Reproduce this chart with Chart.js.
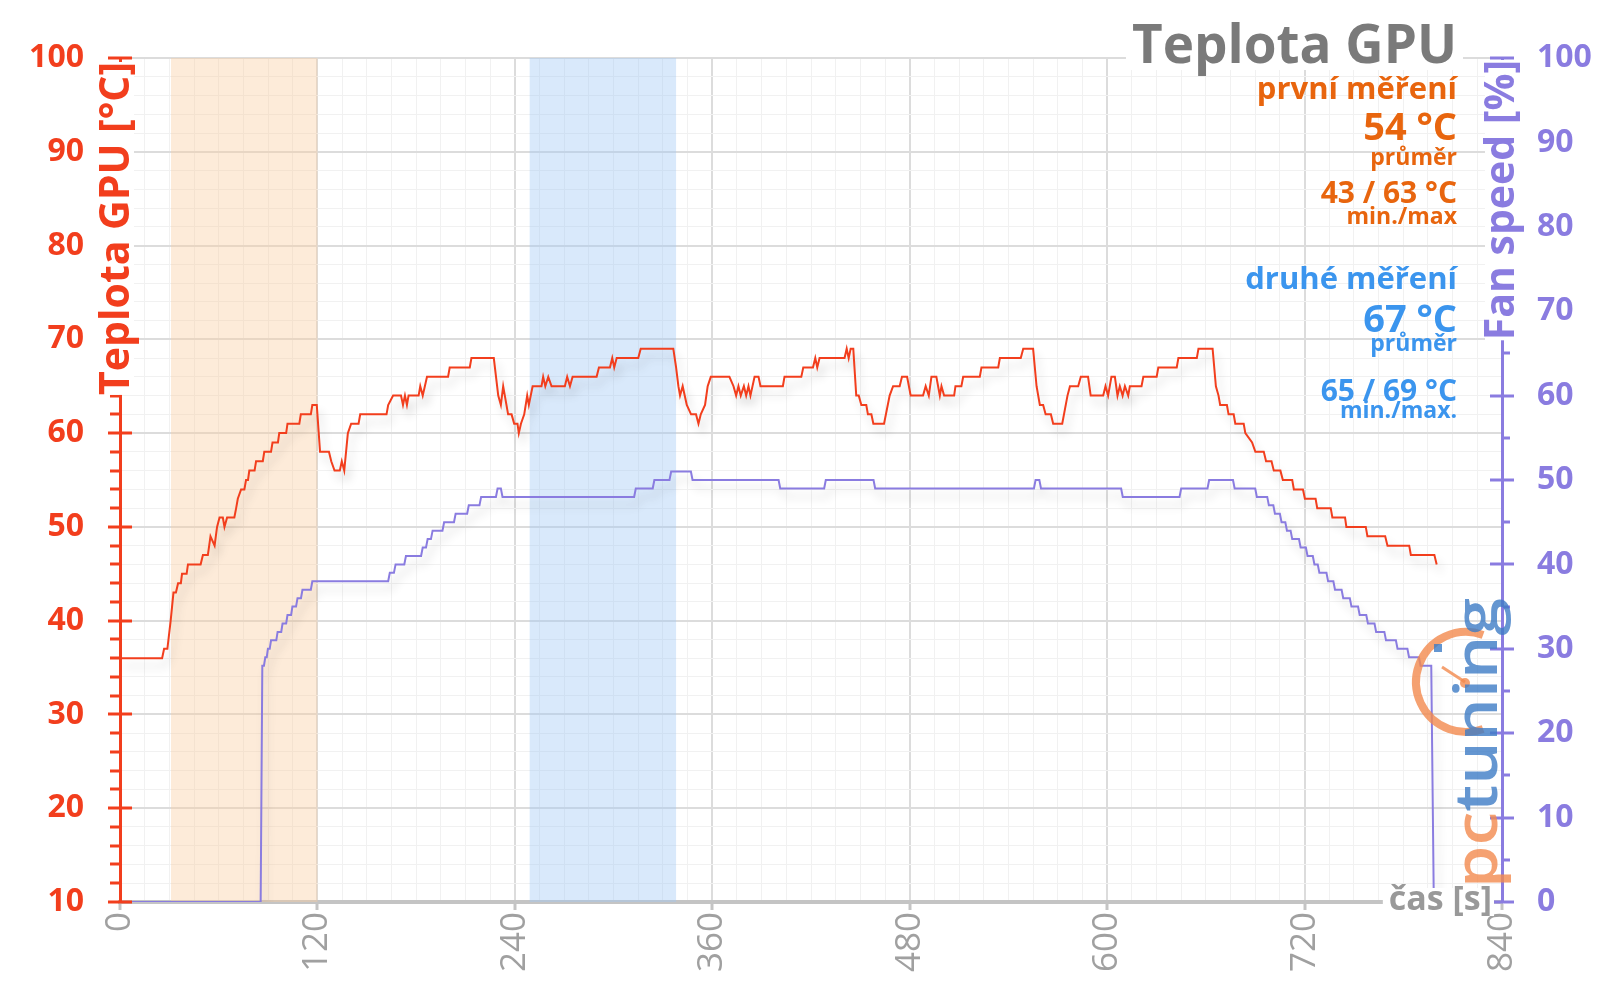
<!DOCTYPE html>
<html>
<head>
<meta charset="utf-8">
<title>Teplota GPU</title>
<script src="https://cdn.jsdelivr.net/npm/chart.js@4.4.1/dist/chart.umd.min.js"></script>
<style>
  html, body { margin: 0; padding: 0; background: #fff; }
  canvas { display: block; }
</style>
</head>
<body>
<canvas id="teplotaChart" width="1600" height="996"></canvas>
<script>
// hodnoty (čas v s)
const tempTime = [
  0, 25.6, 26.8, 28.8, 30.8, 32.5, 34, 35.3, 37, 37.7,
  40.5, 41.3, 49, 50.4, 53.4, 55, 57.5, 59, 60.5, 62.5,
  63.5, 65.1, 69.5, 70.6, 71.6, 73.6, 75.6, 76.6, 77.8, 78.6,
  81.8, 82.7, 86.8, 87.7, 91.8, 92.7, 96, 96.8, 101, 101.8,
  109, 109.9, 116, 116.9, 119.6, 121.6, 127, 128.4, 130.4, 133.6,
  134.8, 136.3, 138.5, 140.5, 145, 146, 162, 163, 166, 170.8,
  172, 173.2, 174.4, 175.4, 181.5, 182.5, 184, 185.3, 186.6, 199.4,
  200.4, 212.6, 213.6, 227.2, 229.9, 231.5, 232.9, 235.9, 238, 239.6,
  241.6, 242.4, 243.7, 245.7, 247.5, 248.5, 250.8, 256.2, 257.2, 258.5,
  260.3, 262.3, 270.4, 271.8, 273.5, 275.1, 289.7, 291.1, 297.8, 299.2,
  300.4, 301.9, 315, 316.5, 336.3, 338, 339.4, 340.4, 342, 344.5,
  347.1, 350.1, 351.6, 353, 355.6, 357.2, 359.1, 370.4, 372.9, 374.5,
  375.9, 377.3, 379.2, 380.6, 382, 383.2, 385.7, 388.1, 389.3, 402.9,
  403.9, 414.1, 415.3, 421.2, 422.6, 423.8, 425.2, 440.4, 441.7, 442.9,
  444.1, 445.7, 447.5, 449, 450.6, 453.6, 454.6, 456.7, 457.9, 464.4,
  467.8, 469.9, 473.9, 475.3, 478.4, 480.6, 488.1, 489.7, 491.6, 493.2,
  496.2, 498.3, 499.3, 500.9, 507, 507.8, 511.4, 512.5, 522.6, 523.6,
  533.8, 534.8, 547.5, 549, 555, 557.1, 559.1, 561.1, 562.6, 565.8,
  567.2, 572.7, 575.9, 577.4, 582.4, 584, 588.4, 590, 597.6, 599,
  600.6, 602.6, 604.7, 606.3, 607.7, 609.4, 610.8, 612.8, 613.8, 620.9,
  622, 630.1, 631.1, 642.3, 643.3, 654.5, 655.5, 664.1, 666.1, 667.7,
  668.7, 672.8, 673.8, 676.9, 677.9, 683, 684, 688.1, 690.1, 695.2,
  696.6, 699.9, 701.3, 705.3, 706.8, 712.5, 713.5, 719, 720.2, 726.7,
  727.7, 735.9, 736.9, 744.6, 745.4, 757.2, 758.2, 769, 770.4, 783.6,
  784.6, 798.9, 800.3
];
const tempValue = [
  36, 36, 37, 37, 40, 43, 43, 44, 44, 45,
  45, 46, 46, 47, 47, 49, 48, 50, 51, 51,
  50, 51, 51, 52, 53, 54, 54, 55, 55, 56,
  56, 57, 57, 58, 58, 59, 59, 60, 60, 61,
  61, 62, 62, 63, 63, 58, 58, 57, 56, 56,
  57, 56, 60, 61, 61, 62, 62, 63, 64, 64,
  63, 64, 63, 64, 64, 65, 64, 65, 66, 66,
  67, 67, 68, 68, 64, 63, 65, 62, 62, 61,
  61, 60, 61, 62, 64, 63, 65, 65, 66, 65,
  66, 65, 65, 66, 65, 66, 66, 67, 67, 68,
  67, 68, 68, 69, 69, 67, 65, 64, 65, 63,
  62, 62, 61, 62, 63, 65, 66, 66, 65, 64,
  65, 64, 65, 64, 65, 64, 66, 66, 65, 65,
  66, 66, 67, 67, 68, 67, 68, 68, 69, 68,
  69, 69, 64, 64, 63, 63, 62, 62, 61, 61,
  64, 65, 65, 66, 66, 64, 64, 65, 64, 66,
  66, 64, 65, 64, 64, 65, 65, 66, 66, 67,
  67, 68, 68, 69, 69, 65, 63, 63, 62, 62,
  61, 61, 64, 65, 65, 66, 66, 64, 64, 65,
  64, 66, 66, 64, 65, 64, 65, 64, 65, 65,
  66, 66, 67, 67, 68, 68, 69, 69, 65, 64,
  63, 63, 62, 62, 61, 61, 60, 59, 58, 58,
  57, 57, 56, 56, 55, 55, 54, 54, 53, 53,
  52, 52, 51, 51, 50, 50, 49, 49, 48, 48,
  47, 47, 46
];
const fanTime = [
  0, 85.5, 86.5, 87.5, 88.3, 89.2, 89.9, 91, 91.8, 95,
  95.8, 98, 98.8, 101, 101.8, 104, 104.8, 107, 107.9, 110,
  110.9, 116, 116.9, 163, 164, 166.5, 167.5, 172.8, 173.8, 183,
  184, 186, 187, 189, 190, 196, 197, 203, 204, 211,
  212, 218.5, 219.5, 228.5, 229.5, 231.5, 232.5, 312.5, 313.5, 323.8,
  324.8, 334, 335, 347, 348, 400.3, 401.3, 428, 429, 458,
  459, 555.5, 556.5, 558.8, 559.8, 608.5, 609.5, 644, 645, 661,
  662, 676.5, 677.5, 690, 691, 697.3, 698.3, 701, 702, 705,
  706, 708.3, 709.3, 711.5, 712.5, 716.6, 717.6, 720.8, 721.8, 725,
  726, 728, 729, 733.3, 734.3, 737.5, 738.5, 742.5, 743.5, 747.5,
  748.5, 752.5, 753.5, 757.5, 758.5, 762.5, 763.5, 768.5, 769.5, 775.5,
  776.5, 782.5, 783.5, 789.5, 790.5, 797, 798.5
];
const fanValue = [
  0, 0, 28, 28, 29, 29, 30, 30, 31, 31,
  32, 32, 33, 33, 34, 34, 35, 35, 36, 36,
  37, 37, 38, 38, 39, 39, 40, 40, 41, 41,
  42, 42, 43, 43, 44, 44, 45, 45, 46, 46,
  47, 47, 48, 48, 49, 49, 48, 48, 49, 49,
  50, 50, 51, 51, 50, 50, 49, 49, 50, 50,
  49, 49, 50, 50, 49, 49, 48, 48, 49, 49,
  50, 50, 49, 49, 48, 48, 47, 47, 46, 46,
  45, 45, 44, 44, 43, 43, 42, 42, 41, 41,
  40, 40, 39, 39, 38, 38, 37, 37, 36, 36,
  35, 35, 34, 34, 33, 33, 32, 32, 31, 31,
  30, 30, 29, 29, 28, 28, 1
];
// zvýrazněné úseky (první / druhé měření)
const bandStart = [31, 249];
const bandEnd = [120, 338];

const chartTitle = "Teplota GPU";
const firstLabel = "první měření";
const firstAvg = "54 °C";
const firstMinMax = "43 / 63 °C";
const secondLabel = "druhé měření";
const secondAvg = "67 °C";
const secondMinMax = "65 / 69 °C";

const RED = "#f23e1d";
const PURPLE = "#8a7ce0";
const ORANGE = "#e8650e";
const BLUE = "#3b95ee";
const FONT = "'Open Sans', sans-serif";
const bandColors = ["rgba(251, 205, 160, 0.4)", "rgba(160, 200, 246, 0.4)"];

Chart.defaults.font.family = FONT;

const bandPlugin = {
  id: "bands",
  beforeDatasetsDraw(chart) {
    const { ctx, chartArea: a, scales: { x } } = chart;
    ctx.save();
    bandStart.forEach((s, i) => {
      const x0 = x.getPixelForValue(s);
      const x1 = x.getPixelForValue(bandEnd[i]);
      ctx.fillStyle = bandColors[i];
      ctx.fillRect(x0, a.top, x1 - x0, a.bottom - a.top);
    });
    ctx.restore();
  }
};

const shadowPlugin = {
  id: "lineShadow",
  beforeDatasetDraw(chart) {
    const c = chart.ctx;
    c.save();
    c.shadowColor = "rgba(0,0,0,0.16)";
    c.shadowBlur = 10;
    c.shadowOffsetX = 4;
    c.shadowOffsetY = 8;
  },
  afterDatasetDraw(chart) {
    chart.ctx.restore();
  }
};

function rotatedTitle(ctx, text, x, yTop, font, color) {
  ctx.save();
  ctx.font = font;
  const w = ctx.measureText(text).width;
  ctx.fillStyle = "#fff";
  ctx.fillRect(x - 17, yTop, 34, w);
  ctx.translate(x, yTop);
  ctx.rotate(-Math.PI / 2);
  ctx.textAlign = "right";
  ctx.textBaseline = "middle";
  ctx.fillStyle = color;
  ctx.fillText(text, 0, 0);
  ctx.restore();
}

function drawLogo(ctx) {
  ctx.save();
  ctx.globalAlpha = 0.8;
  ctx.strokeStyle = "#f28a4e";
  ctx.lineWidth = 8;
  ctx.beginPath();
  ctx.arc(1466, 682, 50, -70 * Math.PI / 180, 70 * Math.PI / 180, true);
  ctx.stroke();
  ctx.lineWidth = 3;
  ctx.beginPath();
  ctx.moveTo(1442, 667);
  ctx.lineTo(1465, 682);
  ctx.stroke();
  ctx.fillStyle = "#f28a4e";
  ctx.beginPath();
  ctx.arc(1465, 683, 5, 0, Math.PI * 2);
  ctx.fill();
  ctx.fillStyle = "#3d7cc6";
  ctx.fillRect(1434, 644, 8, 8);

  ctx.translate(1497, 888);
  ctx.rotate(-Math.PI / 2);
  ctx.font = "600 60px " + FONT;
  const full = ctx.measureText("pctuning").width;
  ctx.scale(290 / full, 1);
  ctx.textBaseline = "alphabetic";
  ctx.textAlign = "left";
  ctx.fillStyle = "#f28a4e";
  ctx.fillText("pc", 0, 0);
  const w = ctx.measureText("pc").width;
  ctx.fillStyle = "#3d7cc6";
  ctx.fillText("tuning", w, 0);
  ctx.restore();
}

const decorPlugin = {
  id: "decor",
  afterDraw(chart) {
    const { ctx, chartArea: a, scales: { y, y2 } } = chart;
    ctx.save();
    // značky na osách
    ctx.lineWidth = 3;
    ctx.strokeStyle = RED;
    for (let v = 10; v <= 100; v += 2) {
      const py = Math.round(y.getPixelForValue(v));
      ctx.beginPath();
      if (v % 10 === 0) { ctx.moveTo(a.left - 12, py); ctx.lineTo(a.left + 12, py); }
      else { ctx.moveTo(a.left - 10, py); ctx.lineTo(a.left, py); }
      ctx.stroke();
    }
    ctx.strokeStyle = PURPLE;
    for (let v = 0; v <= 100; v += 5) {
      const py = Math.round(y2.getPixelForValue(v));
      ctx.beginPath();
      if (v % 10 === 0) { ctx.moveTo(a.right - 12, py); ctx.lineTo(a.right + 12, py); }
      else { ctx.moveTo(a.right, py); ctx.lineTo(a.right + 8, py); }
      ctx.stroke();
    }
    ctx.restore();

    rotatedTitle(ctx, "Teplota GPU [°C]", 117, 62, "bold 41px " + FONT, RED);
    rotatedTitle(ctx, "Fan speed [%]", 1502, 60, "bold 41px " + FONT, PURPLE);

    // popis osy x
    ctx.save();
    ctx.font = "bold 34px " + FONT;
    const cw = ctx.measureText("čas [s]").width;
    ctx.fillStyle = "#fff";
    ctx.fillRect(1492 - cw - 6, a.bottom - 14, cw + 8, 28);
    ctx.fillStyle = "#999";
    ctx.textAlign = "right";
    ctx.textBaseline = "middle";
    ctx.fillText("čas [s]", 1492, a.bottom - 2);
    ctx.restore();

    drawLogo(ctx);

    // souhrn vpravo nahoře
    ctx.save();
    ctx.textAlign = "right";
    ctx.textBaseline = "alphabetic";
    const rx = 1457;
    ctx.font = "bold 53px " + FONT;
    const tw = ctx.measureText(chartTitle).width;
    ctx.fillStyle = "#fff";
    ctx.fillRect(rx - tw - 6, 20, tw + 12, 50);
    ctx.fillStyle = "#7a7a7a";
    ctx.fillText(chartTitle, rx, 63);

    const lines = [
      [firstLabel, 31, ORANGE, 99],
      [firstAvg, 38, ORANGE, 140],
      ["průměr", 23, ORANGE, 165],
      [firstMinMax, 30, ORANGE, 203],
      ["min./max", 23, ORANGE, 224],
      [secondLabel, 31, BLUE, 289],
      [secondAvg, 38, BLUE, 332],
      ["průměr", 23, BLUE, 351],
      [secondMinMax, 30, BLUE, 401],
      ["min./max.", 23, BLUE, 418]
    ];
    lines.forEach(([t, size, col, by]) => {
      ctx.font = "bold " + size + "px " + FONT;
      ctx.fillStyle = col;
      ctx.fillText(t, rx, by);
    });
    ctx.restore();
  }
};

const isMajorX = v => v % 120 === 0;
const isMajorY = v => v % 10 === 0;

new Chart(document.getElementById("teplotaChart"), {
  type: "line",
  data: {
    datasets: [
      {
        label: "Teplota GPU",
        data: tempTime.map((t, i) => ({ x: t, y: tempValue[i] })),
        yAxisID: "y",
        borderColor: RED,
        borderWidth: 2,
        pointRadius: 0,
        tension: 0
      },
      {
        label: "Fan speed",
        data: fanTime.map((t, i) => ({ x: t, y: fanValue[i] })),
        yAxisID: "y2",
        borderColor: PURPLE,
        borderWidth: 2,
        pointRadius: 0,
        tension: 0
      }
    ]
  },
  options: {
    responsive: false,
    animation: false,
    devicePixelRatio: 1,
    layout: { padding: { top: 58, left: 0, right: 0, bottom: 0 } },
    plugins: { legend: { display: false }, tooltip: { enabled: false } },
    scales: {
      x: {
        type: "linear",
        min: 0,
        max: 840,
        afterFit: s => { s.height = 94; },
        ticks: {
          stepSize: 15,
          maxTicksLimit: 100,
          autoSkip: false,
          minRotation: 90,
          maxRotation: 90,
          padding: 2,
          color: "#a0a0a0",
          font: { size: 35, family: FONT },
          callback: v => isMajorX(v) ? v : ""
        },
        grid: {
          color: c => isMajorX(c.tick.value) ? "#dcdcdc" : "#f1f1f1",
          lineWidth: c => isMajorX(c.tick.value) ? 2 : 1,
          tickLength: 8,
          tickWidth: 3,
          tickColor: c => isMajorX(c.tick.value) ? "#c4c4c4" : "rgba(0,0,0,0)"
        },
        border: { color: "#c4c4c4", width: 4 }
      },
      y: {
        type: "linear",
        position: "left",
        min: 10,
        max: 100,
        afterFit: s => { s.width = 120; },
        ticks: {
          stepSize: 2,
          maxTicksLimit: 100,
          autoSkip: false,
          padding: 36,
          color: RED,
          font: { size: 32, weight: "bold", family: FONT },
          callback: v => isMajorY(v) ? v : ""
        },
        grid: {
          color: c => isMajorY(c.tick.value) ? "#dcdcdc" : "#f1f1f1",
          lineWidth: c => isMajorY(c.tick.value) ? 2 : 1,
          drawTicks: false
        },
        border: { color: RED, width: 3 }
      },
      y2: {
        type: "linear",
        position: "right",
        min: 0,
        max: 100,
        afterFit: s => { s.width = 98; },
        ticks: {
          stepSize: 5,
          maxTicksLimit: 100,
          autoSkip: false,
          padding: 35,
          color: PURPLE,
          font: { size: 32, weight: "bold", family: FONT },
          callback: v => v % 10 === 0 ? v : ""
        },
        grid: { drawOnChartArea: false, drawTicks: false },
        border: { color: PURPLE, width: 3 }
      }
    }
  },
  plugins: [bandPlugin, shadowPlugin, decorPlugin]
});
</script>
</body>
</html>
